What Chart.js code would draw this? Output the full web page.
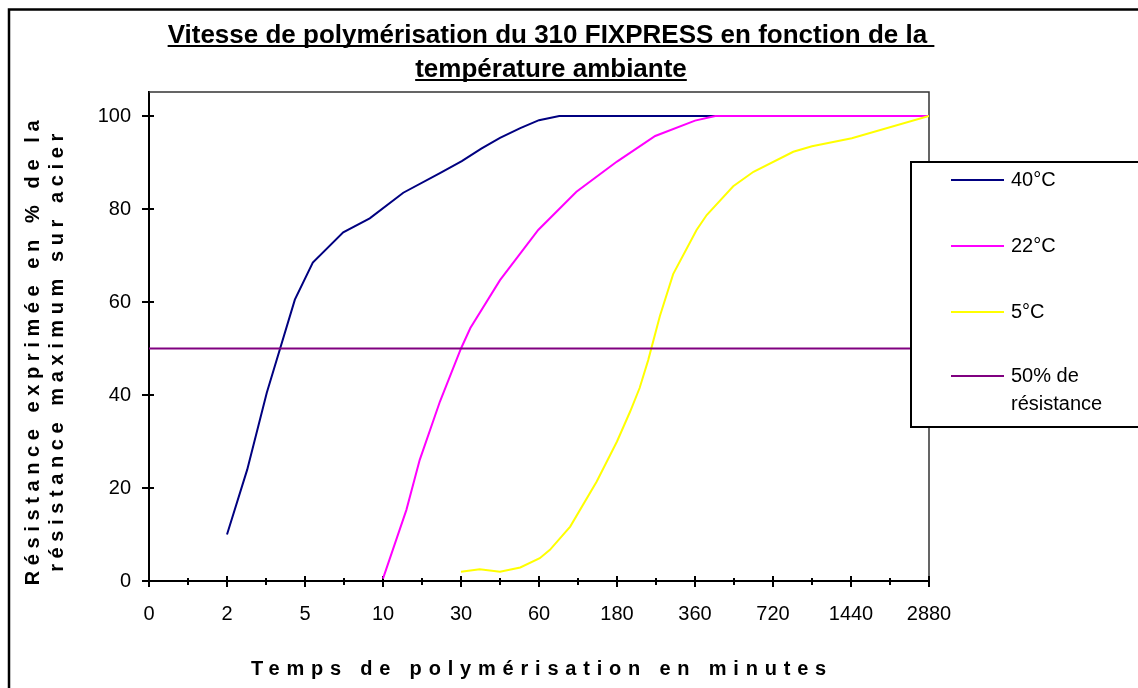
<!DOCTYPE html>
<html>
<head>
<meta charset="utf-8">
<script src="https://cdn.jsdelivr.net/npm/chart.js@4"></script>
<style>
  body { margin: 0; background: #fff; }
</style>
</head>
<body>
<canvas id="polyChart" width="1138" height="688"></canvas>
<script>
// Libellés de l'axe des temps (minutes) - une graduation par libellé
const tickLabels = ['0', '2', '5', '10', '30', '60', '180', '360', '720', '1440', '2880'];

// Positions le long de l'axe (0 = "0", 1 = "2", ... 10 = "2880") et % de résistance
const x40 = [1.00, 1.26, 1.51, 1.87, 2.10, 2.49, 2.83, 3.26, 3.73, 4.01, 4.26, 4.50, 4.76, 5.00, 5.26, 10];
const y40 = [10, 24, 40.5, 60.5, 68.5, 75, 78, 83.5, 87.7, 90.3, 93, 95.3, 97.4, 99.1, 100, 100];

const x22 = [3.00, 3.30, 3.47, 3.73, 4.00, 4.12, 4.50, 4.99, 5.48, 6.00, 6.49, 7.00, 7.26, 10];
const y22 = [0.5, 15.3, 26, 38.6, 50, 54.4, 64.7, 75.5, 83.7, 90.2, 95.7, 99, 100, 100];

const x5 = [4.00, 4.24, 4.50, 4.76, 5.01, 5.14, 5.40, 5.74, 6.00, 6.17, 6.29, 6.40, 6.55, 6.72, 7.02, 7.15, 7.49, 7.75, 8.26, 8.50, 9.01, 10];
const y5 = [2.0, 2.5, 2.0, 2.9, 4.9, 6.7, 11.7, 21.4, 30, 36.5, 41.5, 47.5, 57, 66, 75.5, 78.7, 84.9, 88, 92.3, 93.5, 95.2, 100];

const xRef = [0, 10];
const yRef = [50, 50];

const titleLines = ['Vitesse de polymérisation du 310 FIXPRESS en fonction de la ', 'température ambiante'];
const yTitleLines = ['Résistance exprimée en % de la', 'résistance maximum sur acier'];
const xTitle = 'Temps de polymérisation en minutes';

const pts = (xs, ys) => xs.map((x, i) => ({ x: x, y: ys[i] }));

Chart.defaults.font.family = '"Liberation Sans", Arial, sans-serif';
Chart.defaults.font.size = 20;
Chart.defaults.color = '#000';

// Cadre, titres, graduations croisées et légende dessinés à la main
const decor = {
    id: 'decor',
    beforeDraw(chart) {
        const ctx = chart.ctx;
        ctx.save();
        ctx.fillStyle = '#fff';
        ctx.fillRect(0, 0, chart.width, chart.height);
        // bordure extérieure (sort du cadre à droite et en bas)
        ctx.strokeStyle = '#000';
        ctx.lineWidth = 2.5;
        ctx.strokeRect(9, 9.5, chart.width + 50, chart.height + 50);

        // titre souligné
        ctx.fillStyle = '#000';
        ctx.font = 'bold 26px "Liberation Sans", Arial, sans-serif';
        ctx.textAlign = 'center';
        ctx.textBaseline = 'alphabetic';
        const base = [43, 77];
        titleLines.forEach((t, i) => {
            const cx = 551;
            ctx.fillText(t, cx, base[i]);
            const w = ctx.measureText(t).width;
            ctx.fillRect(cx - w / 2, base[i] + 2, w, 2);
        });

        // titres des axes (texte espacé comme dans Excel)
        ctx.font = 'bold 20px "Liberation Sans", Arial, sans-serif';
        ctx.textBaseline = 'middle';
        const area = chart.chartArea;
        ctx.letterSpacing = '6.8px';
        ctx.fillText(xTitle, (area.left + area.right) / 2 + 3, 669);
        ctx.letterSpacing = '5.6px';
        ctx.save();
        ctx.translate(33, 350);
        ctx.rotate(-Math.PI / 2);
        ctx.fillText(yTitleLines[0], 0, 0);
        ctx.fillText(yTitleLines[1], 0, 24);
        ctx.restore();
        ctx.letterSpacing = '0px';
        ctx.restore();
    },
    beforeDatasetsDraw(chart) {
        const ctx = chart.ctx;
        const a = chart.chartArea;
        const xs = chart.scales.x, ys = chart.scales.y;
        ctx.save();
        // bord haut et droit de la zone de traçage
        ctx.strokeStyle = '#333';
        ctx.lineWidth = 1.5;
        ctx.beginPath();
        ctx.moveTo(a.left, a.top);
        ctx.lineTo(a.right, a.top);
        ctx.lineTo(a.right, a.bottom);
        ctx.stroke();
        // graduations qui traversent les axes
        ctx.strokeStyle = '#000';
        ctx.lineWidth = 2;
        ctx.beginPath();
        xs.ticks.forEach(t => {
            const px = Math.round(xs.getPixelForValue(t.value));
            const major = Number.isInteger(t.value);
            ctx.moveTo(px, a.bottom - (major ? 5 : 3));
            ctx.lineTo(px, a.bottom + (major ? 6 : 4));
        });
        ys.ticks.forEach(t => {
            const py = Math.round(ys.getPixelForValue(t.value));
            ctx.moveTo(a.left - 7, py);
            ctx.lineTo(a.left + 5, py);
        });
        ctx.stroke();
        ctx.restore();
    },
    afterDraw(chart) {
        const ctx = chart.ctx;
        ctx.save();
        ctx.fillStyle = '#fff';
        ctx.strokeStyle = '#000';
        ctx.lineWidth = 2;
        ctx.fillRect(911, 162, 260, 265);
        ctx.strokeRect(911, 162, 260, 265);
        ctx.font = '20px "Liberation Sans", Arial, sans-serif';
        ctx.textAlign = 'left';
        ctx.textBaseline = 'middle';
        ctx.fillStyle = '#000';
        const rows = [180, 246, 312, 376];
        chart.data.datasets.forEach((ds, i) => {
            const y = rows[i];
            ctx.strokeStyle = ds.borderColor;
            ctx.lineWidth = 2;
            ctx.beginPath();
            ctx.moveTo(951, y);
            ctx.lineTo(1004, y);
            ctx.stroke();
            String(ds.label).split('\n').forEach((line, k) => {
                ctx.fillText(line, 1011, y + k * 28);
            });
        });
        ctx.restore();
    }
};

new Chart(document.getElementById('polyChart'), {
    type: 'line',
    data: {
        datasets: [
            { label: '40°C', data: pts(x40, y40), borderColor: '#000080', order: 3 },
            { label: '22°C', data: pts(x22, y22), borderColor: '#FF00FF', order: 2 },
            { label: '5°C', data: pts(x5, y5), borderColor: '#FFFF00', order: 1 },
            { label: '50% de\nrésistance', data: pts(xRef, yRef), borderColor: '#800080', order: 0 }
        ]
    },
    options: {
        responsive: false,
        animation: false,
        layout: { padding: { top: 92, right: 209, left: 0, bottom: 0 } },
        elements: {
            line: { borderWidth: 2, tension: 0 },
            point: { radius: 0, hoverRadius: 0 }
        },
        plugins: {
            legend: { display: false },
            title: { display: false },
            tooltip: { enabled: false }
        },
        scales: {
            x: {
                type: 'linear',
                min: 0,
                max: 10,
                afterFit: s => { s.height = 107; },
                border: { color: '#000', width: 2 },
                grid: { drawOnChartArea: false, drawTicks: false },
                ticks: {
                    stepSize: 0.5,
                    autoSkip: false,
                    maxRotation: 0,
                    padding: 21,
                    callback: v => Number.isInteger(v) ? tickLabels[v] : ''
                }
            },
            y: {
                min: 0,
                max: 105.16, // la zone de traçage dépasse un peu 100
                afterFit: s => { s.width = 149; },
                afterBuildTicks: s => { s.ticks = s.ticks.filter(t => t.value <= 100); },
                border: { color: '#000', width: 2 },
                grid: { drawOnChartArea: false, drawTicks: false },
                ticks: { stepSize: 20, padding: 18 }
            }
        }
    },
    plugins: [decor]
});
</script>
</body>
</html>
